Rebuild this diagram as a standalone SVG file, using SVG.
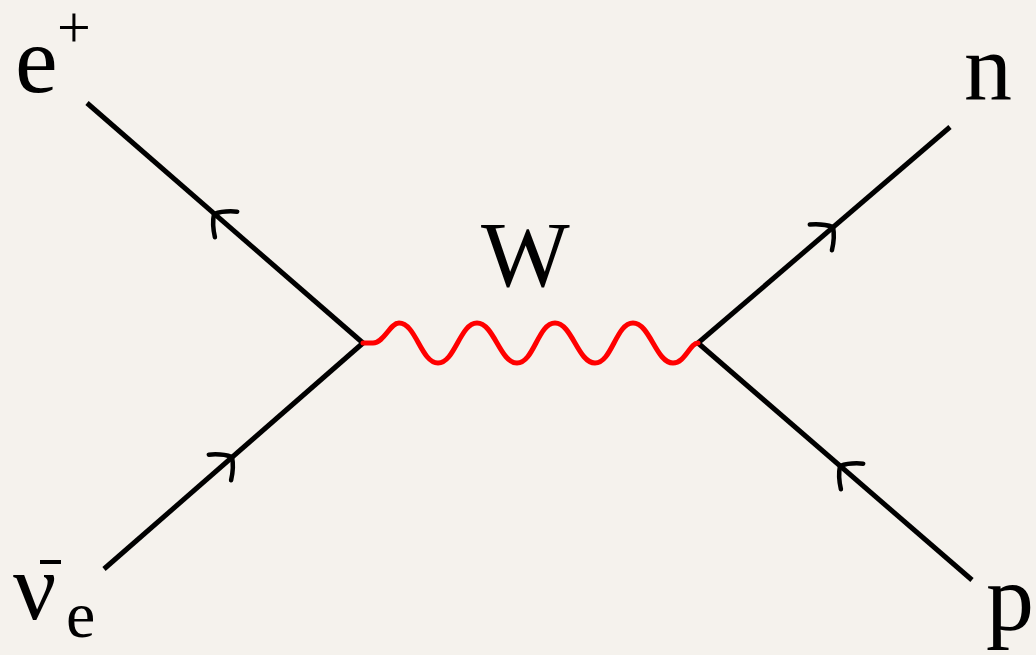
<svg xmlns="http://www.w3.org/2000/svg" width="1036" height="655" viewBox="0 0 1036 655">
<style>
.l{stroke:#000;stroke-width:5;fill:none;stroke-linecap:butt}
.a{stroke:#000;stroke-width:4.5;fill:none;stroke-linecap:round;stroke-linejoin:miter}
.w{stroke:#f00;stroke-width:5;fill:none;stroke-linecap:round}
</style>
<defs>
<path id="arr" class="a" d="M-16,-17 Q-5,-9 0,0 Q-5,9 -16,17"/>
</defs>
<rect width="1036" height="655" fill="#f5f2ed"/>
<g id="connectors">
<path class="l" d="M87,103 L363,343"/>
<path class="l" d="M104,569 L363,343"/>
<path class="l" d="M698,343 L950,127"/>
<path class="l" d="M698,343 L972,580"/>
<path class="w" d="M363,343 H373 C384,343 390,323 399,323 C416,323 421,363 438,363 C455,363 460,323 477,323 C494,323 500,363 517,363 C534,363 538,323 555,323 C572,323 578,363 595,363 C612,363 616,323 633,323 C650,323 656,363 673,363 C685,363 690,343 698,343"/>
<use href="#arr" transform="translate(214,214) rotate(221)"/>
<use href="#arr" transform="translate(232,457) rotate(-41)"/>
<use href="#arr" transform="translate(833,227) rotate(-40.6)"/>
<use href="#arr" transform="translate(840,466) rotate(221)"/>
</g>
<g id="e-plus" font-family="Liberation Serif, serif"><text x="15" y="92" font-size="96">e</text><text x="57" y="47" font-size="60">+</text></g>
<g id="nu-e" font-family="Liberation Serif, serif"><text x="13" y="619" font-size="96">ν</text><line x1="40" y1="562" x2="61" y2="562" stroke="#000" stroke-width="4"/><text x="66" y="637" font-size="66">e</text></g>
<g id="W" font-family="Liberation Serif, serif"><text x="481" y="286" font-size="94">W</text></g>
<g id="n" font-family="Liberation Serif, serif"><text x="964" y="100" font-size="96">n</text></g>
<g id="p" font-family="Liberation Serif, serif"><text x="986" y="630" font-size="96">p</text></g>
</svg>
